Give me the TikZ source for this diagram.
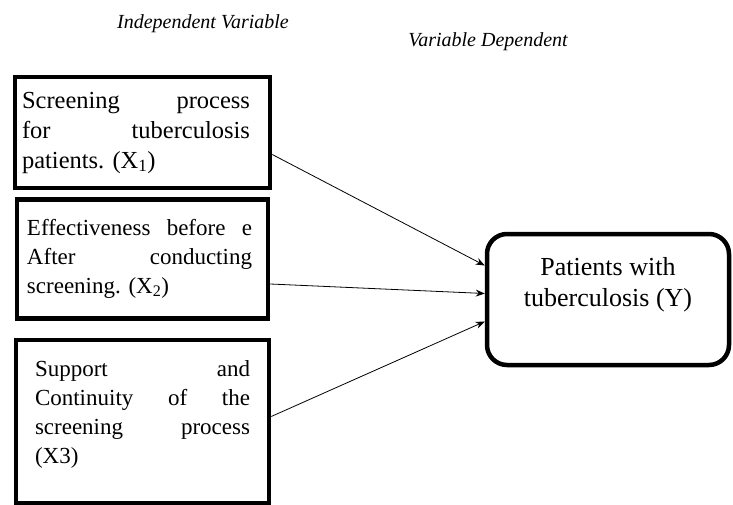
\documentclass[tikz,border=0pt]{standalone}
\usepackage{fontspec}
\setmainfont{Liberation Serif}
\usetikzlibrary{positioning, arrows.meta}
\newcommand{\jline}[2]{{\spaceskip=0pt\xspaceskip=0pt\makebox[#1][s]{#2}}}
\tikzset{>={Stealth[length=9pt, width=7pt]},
         varbox/.style={draw, line width=4.5pt, align=left, inner ysep=0pt,
                        font=\fontsize{23}{29}\selectfont},
         depbox/.style={draw, line width=4.5pt, rounded corners=20pt, align=center,
                        minimum width=242pt, minimum height=131pt,
                        font=\fontsize{26}{31}\selectfont},
         heading/.style={font=\fontsize{20}{24}\selectfont\itshape},
         link/.style={->, line width=0.8pt},
         }
\begin{document}
\begin{tikzpicture}[x=1pt, y=1pt]
    \useasboundingbox (0,0) rectangle (733,-505);
    \node[heading] (indep) at (203,-24) {Independent Variable};
    \node[heading] (dep) at (488,-42) {Variable Dependent};

    \node[varbox, font=\fontsize{24.5}{30}\selectfont, inner xsep=7pt, text width=241pt, minimum height=111pt] (x1) at (142.5,-132.5)
        {\jline{228pt}{Screening process}\\ \jline{228pt}{for tuberculosis}\\ patients.\ (X\textsubscript{1})};
    \node[varbox, inner xsep=10pt, text width=231pt, minimum height=119pt, below=7pt of x1] (x2)
        {\jline{225pt}{Effectiveness before e}\\ \jline{225pt}{After conducting}\\ screening.\ (X\textsubscript{2})\rule[-6pt]{0pt}{0pt}};
    \node[varbox, inner xsep=19pt, text width=215pt, minimum height=163pt, below=17pt of x2] (x3)
        {\jline{215pt}{Support and}\\ \jline{215pt}{Continuity of the}\\ \jline{215pt}{screening process}\\ (X3)\rule[-19pt]{0pt}{0pt}};
    \node[depbox] (y) at (608,-299.5) {Patients with\\ tuberculosis (Y)\rule[-35pt]{0pt}{0pt}};

    \draw[link] ([yshift=-22pt]x1.east) -- ([yshift=34pt]y.west);
    \draw[link] ([yshift=-25pt]x2.east) -- ([yshift=6pt]y.west);
    \draw[link] ([yshift=5pt]x3.east) -- ([yshift=-22pt]y.west);
\end{tikzpicture}
\end{document}
